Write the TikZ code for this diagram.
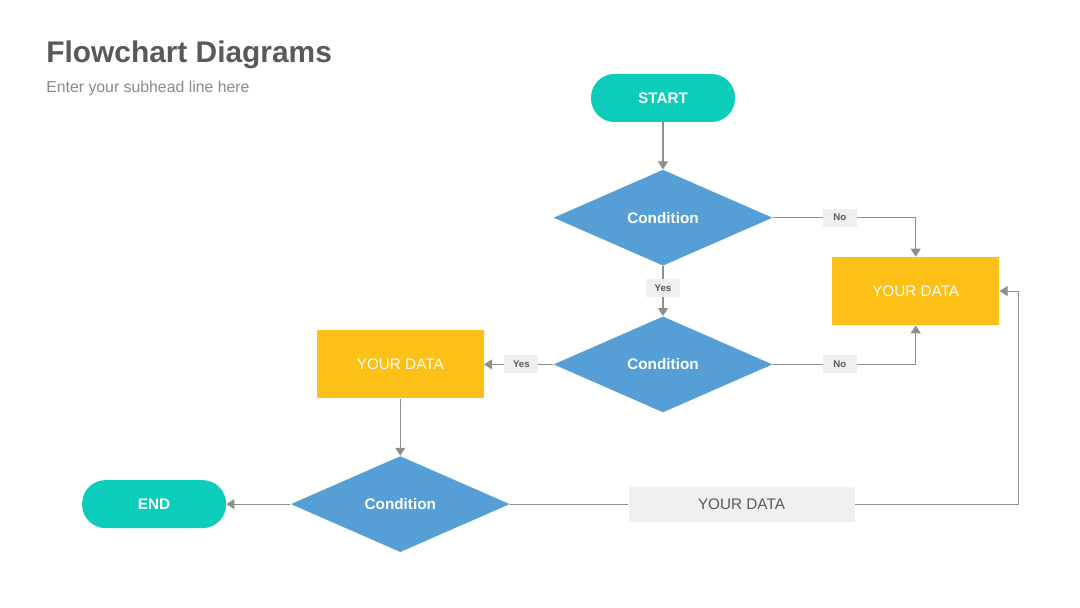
\documentclass[tikz,border=0pt]{standalone}
\usepackage{fontspec}
\setmainfont{Liberation Sans}
\usepackage{xcolor}
\usepackage{tikz}
\usetikzlibrary{shapes.geometric,arrows.meta,positioning}
\definecolor{tealpill}{HTML}{0BCDBA}
\definecolor{condblue}{HTML}{559FD6}
\definecolor{datayellow}{HTML}{FCC016}
\definecolor{linegray}{HTML}{8E8E8E}
\definecolor{tagfill}{HTML}{EFEFEF}
\definecolor{titlegray}{HTML}{595959}
\definecolor{subgray}{HTML}{8A8A8A}

\begin{document}
\begin{tikzpicture}[
    node distance=1cm,
    terminal/.style={rectangle, rounded corners=0.47cm, fill=tealpill, text=white, minimum width=2.88cm, minimum height=0.96cm, font=\fontsize{8.7}{10}\selectfont\bfseries},
    cond/.style={diamond, fill=condblue, text=white, minimum width=4.38cm, minimum height=1.92cm, inner sep=0pt, font=\fontsize{8.7}{10}\selectfont\bfseries},
    datum/.style={rectangle, fill=datayellow, text=white, minimum width=3.34cm, minimum height=1.36cm, font=\fontsize{8.7}{10}\selectfont},
    note/.style={rectangle, fill=tagfill, text=titlegray, minimum width=4.52cm, minimum height=0.7cm, font=\fontsize{8.7}{10}\selectfont},
    tag/.style={rectangle, fill=tagfill, text=titlegray, minimum width=0.68cm, minimum height=0.36cm, inner sep=0pt, font=\fontsize{5.5}{6}\selectfont\bfseries},
    arrow/.style={-{Triangle[length=1.6mm, width=2mm]}, draw=linegray, line width=0.6pt},
    link/.style={draw=linegray, line width=0.6pt}
]
\useasboundingbox (0,0) rectangle (21.6,-12.16);

\node[anchor=base west, inner sep=0pt, text=titlegray, font=\fontsize{17}{20}\selectfont\bfseries] (title) at (0.92,-1.26) {Flowchart Diagrams};
\node[anchor=base west, inner sep=0pt, text=subgray, font=\fontsize{9}{11}\selectfont] (subhead) at (0.92,-1.85) {Enter your subhead line here};

\node[terminal] (start) at (13.26,-1.96) {START};
\node[cond, below=0.94cm of start] (cond1) {Condition};
\node[cond, below=1.0cm of cond1] (cond2) {Condition};
\node[datum, below right=0.78cm and 1.18cm of cond1.east] (data1) {YOUR DATA};
\node[datum, left=1.38cm of cond2] (data2) {YOUR DATA};
\node[cond, below=1.14cm of data2] (cond3) {Condition};
\node[terminal, left=1.28cm of cond3] (end) {END};
\node[note, right=2.36cm of cond3] (data3) {YOUR DATA};
\coordinate[right=3.28cm of data3.east] (turn);

\draw[arrow] (start) -- (cond1);
\draw[arrow] (cond1) -| node[tag, pos=0.234] (no1) {No} (data1);
\draw[arrow] (cond1) -- node[tag, pos=0.44] (yes1) {Yes} (cond2);
\draw[arrow] (cond2) -| node[tag, pos=0.234] (no2) {No} (data1);
\draw[arrow] (cond2) -- node[tag, pos=0.46] (yes2) {Yes} (data2);
\draw[arrow] (data2) -- (cond3);
\draw[arrow] (cond3) -- (end);
\draw[link] (cond3) -- (data3);
\draw[arrow] (data3) -- (turn) |- (data1);
\end{tikzpicture}
\end{document}
